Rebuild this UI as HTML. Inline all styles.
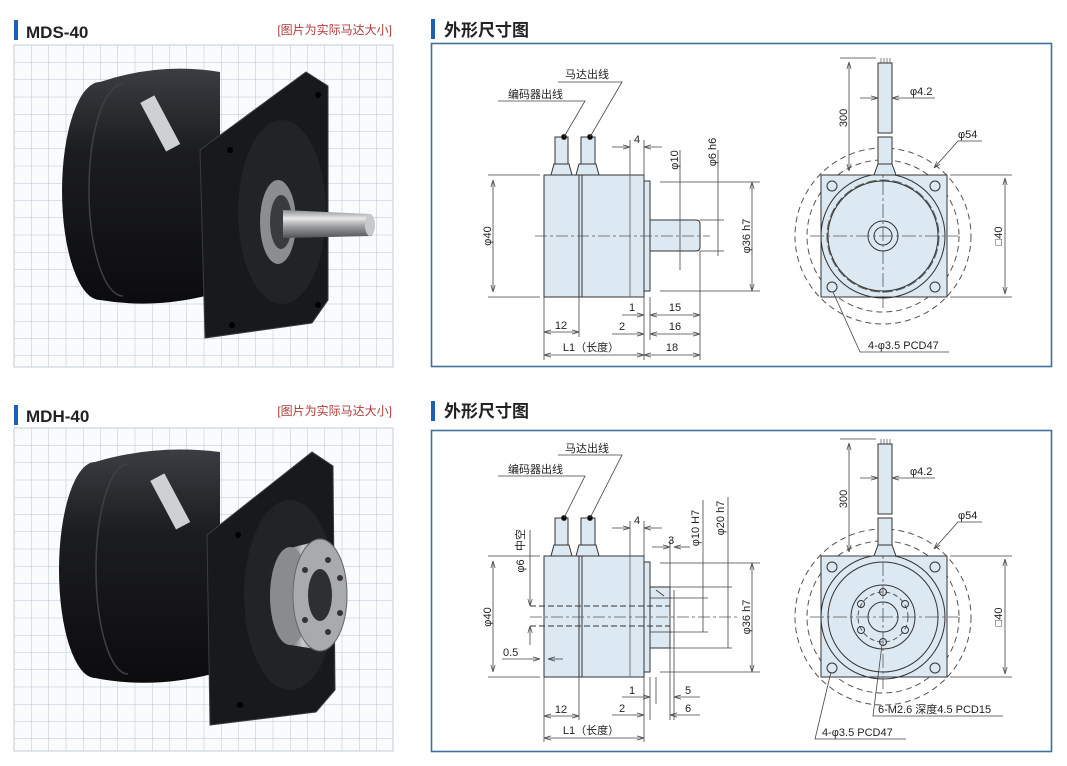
<!DOCTYPE html>
<html><head><meta charset="utf-8"><style>
html,body{margin:0;padding:0;background:#fff;}
svg{display:block;font-family:"Liberation Sans","Noto Sans CJK SC",sans-serif;}
</style></head><body>
<svg width="1067" height="766" viewBox="0 0 1067 766" xmlns="http://www.w3.org/2000/svg">
<defs>
<pattern id="grid" patternUnits="userSpaceOnUse" x="14" y="45" width="17.25" height="17.25">
<path d="M0 0H17.25M0 0V17.25" stroke="#b9c5d5" stroke-width="1" fill="none"/>
</pattern>
<pattern id="grid2" patternUnits="userSpaceOnUse" x="14" y="428" width="17.25" height="17.25">
<path d="M0 0H17.25M0 0V17.25" stroke="#b9c5d5" stroke-width="1" fill="none"/>
</pattern>
<marker id="a" viewBox="0 0 10 10" refX="10" refY="5" markerWidth="7" markerHeight="7" orient="auto-start-reverse" markerUnits="userSpaceOnUse">
<path d="M0 2L10 5L0 8" fill="none" stroke="#555" stroke-width="1.2"/>
</marker>
<linearGradient id="body" x1="0" y1="0" x2="0" y2="1">
<stop offset="0" stop-color="#3a3d42"/><stop offset="0.35" stop-color="#1c1d20"/><stop offset="1" stop-color="#0c0c0e"/>
</linearGradient>
<linearGradient id="metal" x1="0" y1="0" x2="0" y2="1">
<stop offset="0" stop-color="#8a8d90"/><stop offset="0.3" stop-color="#e8e8e8"/><stop offset="0.6" stop-color="#9a9b9d"/><stop offset="1" stop-color="#505255"/>
</linearGradient>
<linearGradient id="hub" x1="0" y1="0" x2="1" y2="0">
<stop offset="0" stop-color="#6a6c70"/><stop offset="0.4" stop-color="#c9cacc"/><stop offset="1" stop-color="#77797c"/>
</linearGradient>
</defs>

<!-- headers -->
<rect x="14" y="20" width="4" height="20" fill="#1d5fb4"/>
<text x="26" y="38" font-size="17" font-weight="bold" fill="#222">MDS-40</text>
<text x="392" y="34" font-size="12" fill="#b23a3a" text-anchor="end">[图片为实际马达大小]</text>
<rect x="431" y="19" width="4" height="20" fill="#1d5fb4"/>
<text x="444" y="36" font-size="17" font-weight="bold" fill="#222">外形尺寸图</text>

<rect x="14" y="405" width="4" height="20" fill="#1d5fb4"/>
<text x="26" y="422" font-size="17" font-weight="bold" fill="#222">MDH-40</text>
<text x="392" y="415" font-size="12" fill="#b23a3a" text-anchor="end">[图片为实际马达大小]</text>
<rect x="431" y="401" width="4" height="20" fill="#1d5fb4"/>
<text x="444" y="417" font-size="17" font-weight="bold" fill="#222">外形尺寸图</text>

<!-- grids -->
<rect x="14" y="45" width="379" height="322" fill="#fafbfd"/>
<rect x="14" y="45" width="379" height="322" fill="url(#grid)" stroke="#c3cedb"/>
<rect x="14" y="428" width="379" height="323" fill="#fafbfd"/>
<rect x="14" y="428" width="379" height="323" fill="url(#grid2)" stroke="#c3cedb"/>

<!-- motor 1 -->
<g>
<path d="M100,82 Q160,62 220,72 L220,292 Q160,310 100,300 A38,109 0 0 1 100,82 Z" fill="url(#body)"/>
<path d="M123,84 A34,106 0 0 0 123,296" stroke="#3e4045" fill="none" stroke-width="1.5"/>
<rect x="152" y="96" width="16" height="55" fill="#cfd0d2" transform="rotate(-28 160 123)"/>
<path d="M200,150 L306,72 L328,86 L328,300 L312,323 L205,338 Z" fill="#18191b" stroke="#3b3d40"/>
<ellipse cx="282" cy="212" rx="44" ry="92" fill="#222326"/>
<ellipse cx="278" cy="222" rx="18" ry="42" fill="#8b8d90"/>
<ellipse cx="281" cy="222" rx="11" ry="27" fill="#3a3b3e"/>
<path d="M283,210 L370,214 L372,236 L283,238 Z" fill="url(#metal)"/>
<ellipse cx="370" cy="225" rx="5" ry="11" fill="#c8c9cb"/>
<circle cx="318" cy="95" r="3" fill="#000"/><circle cx="318" cy="305" r="3" fill="#000"/>
<circle cx="230" cy="150" r="3" fill="#000"/><circle cx="232" cy="325" r="3" fill="#000"/>
</g>
<!-- motor 2 -->
<g>
<path d="M95,462 Q155,444 220,452 L220,672 Q155,690 95,678 A36,108 0 0 1 95,462 Z" fill="url(#body)"/>
<path d="M128,464 A32,105 0 0 0 128,674" stroke="#3e4045" fill="none" stroke-width="1.5"/>
<rect x="162" y="474" width="16" height="55" fill="#cfd0d2" transform="rotate(-28 170 501)"/>
<path d="M207,535 L312,452 L333,466 L335,690 L316,712 L210,725 Z" fill="#18191b" stroke="#3b3d40"/>
<ellipse cx="290" cy="595" rx="46" ry="95" fill="#222326"/>
<path d="M290,548 L322,540 L322,650 L290,645 Z" fill="url(#hub)"/>
<ellipse cx="290" cy="596" rx="20" ry="49" fill="#8a8b8e"/>
<ellipse cx="320" cy="595" rx="27" ry="56" fill="#a9aaad" stroke="#666"/>
<ellipse cx="320" cy="595" rx="12" ry="26" fill="#2e2f32"/>
<circle cx="328" cy="560" r="3" fill="#333"/><circle cx="340" cy="578" r="3" fill="#333"/><circle cx="340" cy="613" r="3" fill="#333"/>
<circle cx="328" cy="632" r="3" fill="#333"/><circle cx="305" cy="570" r="3" fill="#333"/><circle cx="305" cy="620" r="3" fill="#333"/>
<circle cx="238" cy="535" r="3" fill="#000"/><circle cx="240" cy="705" r="3" fill="#000"/>
</g>

<!-- drawing panels -->
<rect x="431.5" y="43.5" width="620" height="323" fill="#fff" stroke="#3f6f9c" stroke-width="1.6"/>
<rect x="431.5" y="430.5" width="620" height="321" fill="#fff" stroke="#3f6f9c" stroke-width="1.6"/>

<g stroke="#333" stroke-width="1" fill="none" font-size="11">
<!-- ===== TOP LEFT VIEW ===== -->
<rect x="544" y="175" width="100" height="122" fill="#dde9f2"/>
<path d="M579,175V297M582,175V297"/>
<path d="M630,175V297" stroke="#777"/>
<rect x="644" y="181" width="6" height="110" fill="#dde9f2"/>
<path d="M650,220H696Q700,220 700,224V247Q700,251 696,251H650Z" fill="#dde9f2"/>
<path d="M535,236H710" stroke="#555" stroke-dasharray="12 3 3 3" stroke-width="0.8"/>
<path d="M554,164H569L572,175H551Z" fill="#dde9f2"/><rect x="555" y="137" width="13" height="27" fill="#dde9f2"/>
<path d="M579,164H596L599,175H576Z" fill="#dde9f2"/><rect x="581" y="137" width="14" height="27" fill="#dde9f2"/>
<circle cx="564" cy="137" r="2.5" fill="#000"/><circle cx="590" cy="137" r="2.5" fill="#000"/>
<g stroke="#444" stroke-width="0.8">
<path d="M498,101H585L564,137M558,82H622L590,137"/>
<path d="M488,175H540M488,297H540"/>
<path d="M493,180V292" marker-start="url(#a)" marker-end="url(#a)"/>
<path d="M630,140V175M644,140V181M612,147H630" marker-end="url(#a)"/><path d="M662,147H644" marker-end="url(#a)"/>
<path d="M680,150V270M718,150V256M700,220H724M700,251H724"/>
<path d="M660,182H760M660,291H760"/>
<path d="M752,182V291" marker-start="url(#a)" marker-end="url(#a)"/>
<path d="M544,297V360M579,297V337M644,297V360M650,297V340M700,251V360"/>
<path d="M544,332H579" marker-start="url(#a)" marker-end="url(#a)"/>
<path d="M544,355H644" marker-start="url(#a)" marker-end="url(#a)"/>
<path d="M644,355H700" marker-start="url(#a)" marker-end="url(#a)"/>
<path d="M622,315H644" marker-end="url(#a)"/><path d="M650,315H700" marker-start="url(#a)" marker-end="url(#a)"/>
<path d="M612,334H644" marker-end="url(#a)"/><path d="M650,334H700" marker-start="url(#a)" marker-end="url(#a)"/>
</g>
<!-- ===== TOP RIGHT VIEW ===== -->
<circle cx="883" cy="236" r="88" stroke="#555" stroke-dasharray="6 4"/>
<circle cx="883" cy="236" r="76" stroke="#555" stroke-dasharray="6 4"/>
<rect x="821" y="175" width="126" height="122" fill="#dde9f2"/>
<circle cx="883" cy="236" r="62"/>
<circle cx="883" cy="236" r="56" stroke="#555" stroke-dasharray="10 3"/>
<circle cx="883" cy="236" r="55" fill="#dde9f2"/>
<circle cx="883" cy="236" r="15"/><circle cx="883" cy="236" r="9"/>
<circle cx="832" cy="186" r="5"/><circle cx="935" cy="186" r="5"/><circle cx="832" cy="287" r="5"/><circle cx="935" cy="287" r="5"/>
<path d="M810,236H958M883,158V308" stroke="#555" stroke-dasharray="14 3 3 3" stroke-width="0.8"/>
<path d="M878,164H892L896,175H874Z" fill="#dde9f2"/>
<rect x="878" y="137" width="14" height="27" fill="#dde9f2"/>
<rect x="878" y="63" width="14" height="70" fill="#dde9f2"/>
<path d="M881,58V63M884,58V63M887,58V63M890,58V63" stroke-width="0.6"/>
<g stroke="#444" stroke-width="0.8">
<path d="M840,58H876M840,175H876"/>
<path d="M849,62V171" marker-start="url(#a)" marker-end="url(#a)"/>
<path d="M860,98H878" marker-end="url(#a)"/><path d="M935,98H892" marker-end="url(#a)"/>
<path d="M982,141H958L934,168" marker-end="url(#a)"/>
<path d="M950,175H1012M950,297H1012"/>
<path d="M1005,178V294" marker-start="url(#a)" marker-end="url(#a)"/>
<path d="M949,352H860L833,292"/>
</g>

<!-- ===== BOTTOM LEFT VIEW ===== -->
<rect x="544" y="556" width="100" height="121" fill="#dde9f2"/>
<path d="M579,556V677M582,556V677"/>
<path d="M630,556V677" stroke="#777"/>
<rect x="644" y="562" width="6" height="110" fill="#dde9f2"/>
<rect x="650" y="587" width="20" height="61" fill="#dde9f2"/>
<path d="M650,598H672M650,632H672M656,590L664,596" stroke-width="0.8"/>
<path d="M530,606H670M530,626H670" stroke-dasharray="6 3"/>
<path d="M530,617H740" stroke="#555" stroke-dasharray="12 3 3 3" stroke-width="0.8"/>
<path d="M554,545H569L572,556H551Z" fill="#dde9f2"/><rect x="555" y="518" width="13" height="27" fill="#dde9f2"/>
<path d="M579,545H596L599,556H576Z" fill="#dde9f2"/><rect x="581" y="518" width="14" height="27" fill="#dde9f2"/>
<circle cx="564" cy="518" r="2.5" fill="#000"/><circle cx="590" cy="518" r="2.5" fill="#000"/>
<g stroke="#444" stroke-width="0.8">
<path d="M498,476H585L564,518M558,455H622L590,518"/>
<path d="M488,556H540M488,677H540"/>
<path d="M493,561V672" marker-start="url(#a)" marker-end="url(#a)"/>
<path d="M530,530V606" marker-end="url(#a)"/><path d="M530,645V626" marker-end="url(#a)"/>
<path d="M502,659H540" marker-end="url(#a)"/><path d="M563,659H548" marker-end="url(#a)"/>
<path d="M630,521V556M644,521V562M612,528H630" marker-end="url(#a)"/><path d="M662,528H644" marker-end="url(#a)"/>
<path d="M652,547H670" marker-end="url(#a)"/><path d="M690,547H674" marker-end="url(#a)"/>
<path d="M670,540V720M674,590V720"/>
<path d="M703,500V632M670,598H708M670,632H708"/>
<path d="M728,497V648M670,587H732M670,648H732"/>
<path d="M660,563H760M660,672H760"/>
<path d="M752,563V672" marker-start="url(#a)" marker-end="url(#a)"/>
<path d="M544,677V742M579,677V720M644,677V742M650,677V720M656,677V704"/>
<path d="M544,716H579" marker-start="url(#a)" marker-end="url(#a)"/>
<path d="M544,738H644" marker-start="url(#a)" marker-end="url(#a)"/>
<path d="M622,697H650" marker-end="url(#a)"/><path d="M612,715H644" marker-end="url(#a)"/>
<path d="M700,697H674" marker-end="url(#a)"/><path d="M700,715H670" marker-end="url(#a)"/>
</g>

<!-- ===== BOTTOM RIGHT VIEW ===== -->
<circle cx="883" cy="617" r="88" stroke="#555" stroke-dasharray="6 4"/>
<circle cx="883" cy="617" r="76" stroke="#555" stroke-dasharray="6 4"/>
<rect x="821" y="556" width="126" height="121" fill="#dde9f2"/>
<circle cx="883" cy="617" r="62"/>
<circle cx="883" cy="617" r="55" fill="#dde9f2"/>
<circle cx="883" cy="617" r="32"/>
<circle cx="883" cy="617" r="25" stroke="#555" stroke-dasharray="5 3"/>
<circle cx="883" cy="617" r="15"/>
<circle cx="883" cy="592" r="3.5"/><circle cx="883" cy="642" r="3.5"/>
<circle cx="861" cy="604" r="3.5"/><circle cx="905" cy="604" r="3.5"/>
<circle cx="861" cy="630" r="3.5"/><circle cx="905" cy="630" r="3.5"/>
<circle cx="832" cy="567" r="5"/><circle cx="935" cy="567" r="5"/><circle cx="832" cy="668" r="5"/><circle cx="935" cy="668" r="5"/>
<path d="M810,617H958M883,539V689" stroke="#555" stroke-dasharray="14 3 3 3" stroke-width="0.8"/>
<path d="M878,545H892L896,556H874Z" fill="#dde9f2"/>
<rect x="878" y="518" width="14" height="27" fill="#dde9f2"/>
<rect x="878" y="444" width="14" height="70" fill="#dde9f2"/>
<path d="M881,439V444M884,439V444M887,439V444M890,439V444" stroke-width="0.6"/>
<g stroke="#444" stroke-width="0.8">
<path d="M840,439H876M840,556H876"/>
<path d="M849,443V552" marker-start="url(#a)" marker-end="url(#a)"/>
<path d="M860,478H878" marker-end="url(#a)"/><path d="M935,478H892" marker-end="url(#a)"/>
<path d="M982,522H958L934,549" marker-end="url(#a)"/>
<path d="M950,556H1012M950,677H1012"/>
<path d="M1005,559V674" marker-start="url(#a)" marker-end="url(#a)"/>
<path d="M1003,716H873L882,645"/>
<path d="M906,739H815L831,672"/>
</g>
</g>

<!-- texts -->
<g font-size="11" fill="#222">
<text x="508" y="98">编码器出线</text><text x="565" y="78">马达出线</text>
<text x="637" y="143" text-anchor="middle">4</text>
<text transform="translate(491,236) rotate(-90)" text-anchor="middle">φ40</text>
<text transform="translate(678,160) rotate(-90)" text-anchor="middle">φ10</text>
<text transform="translate(716,152) rotate(-90)" text-anchor="middle">φ6 h6</text>
<text transform="translate(750,236) rotate(-90)" text-anchor="middle">φ36 h7</text>
<text x="561" y="329" text-anchor="middle">12</text>
<text x="591" y="351" text-anchor="middle">L1（长度）</text>
<text x="672" y="351" text-anchor="middle">18</text>
<text x="632" y="311" text-anchor="middle">1</text><text x="675" y="311" text-anchor="middle">15</text>
<text x="622" y="330" text-anchor="middle">2</text><text x="675" y="330" text-anchor="middle">16</text>
<text transform="translate(847,118) rotate(-90)" text-anchor="middle">300</text>
<text x="910" y="95">φ4.2</text>
<text x="958" y="138">φ54</text>
<text transform="translate(1002,236) rotate(-90)" text-anchor="middle">□40</text>
<text x="868" y="349">4-φ3.5 PCD47</text>

<text x="508" y="473">编码器出线</text><text x="565" y="452">马达出线</text>
<text x="637" y="524" text-anchor="middle">4</text>
<text x="671" y="544" text-anchor="middle">3</text>
<text transform="translate(491,617) rotate(-90)" text-anchor="middle">φ40</text>
<text transform="translate(524,540) rotate(-90)" text-anchor="middle">中空</text>
<text transform="translate(524,566) rotate(-90)" text-anchor="middle">φ6</text>
<text x="503" y="656">0.5</text>
<text transform="translate(699,528) rotate(-90)" text-anchor="middle">φ10 H7</text>
<text transform="translate(724,518) rotate(-90)" text-anchor="middle">φ20 h7</text>
<text transform="translate(750,617) rotate(-90)" text-anchor="middle">φ36 h7</text>
<text x="561" y="713" text-anchor="middle">12</text>
<text x="591" y="734" text-anchor="middle">L1（长度）</text>
<text x="632" y="694" text-anchor="middle">1</text><text x="622" y="712" text-anchor="middle">2</text>
<text x="688" y="694" text-anchor="middle">5</text><text x="688" y="712" text-anchor="middle">6</text>
<text transform="translate(847,499) rotate(-90)" text-anchor="middle">300</text>
<text x="910" y="475">φ4.2</text>
<text x="958" y="519">φ54</text>
<text transform="translate(1002,617) rotate(-90)" text-anchor="middle">□40</text>
<text x="878" y="713">6-M2.6 深度4.5 PCD15</text>
<text x="822" y="736">4-φ3.5 PCD47</text>
</g>
</svg>
</body></html>
